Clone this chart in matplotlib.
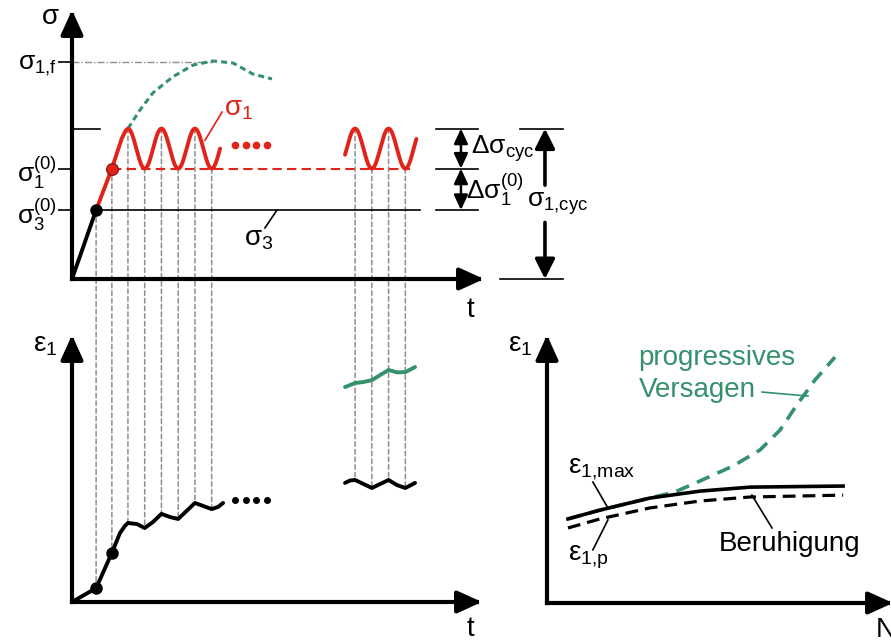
import numpy as np
import matplotlib.pyplot as plt
from matplotlib.patches import ConnectionPatch

plt.rcParams['font.family'] = ['Liberation Sans', 'DejaVu Sans']
plt.rcParams['mathtext.fontset'] = 'custom'
plt.rcParams['mathtext.rm'] = 'Liberation Sans'
plt.rcParams['mathtext.it'] = 'Liberation Sans'
plt.rcParams['mathtext.default'] = 'regular'

RED = '#e2231a'
GREEN = '#35906c'
GREY = '#8e8e8e'
FS = 20

# --- stress levels, top diagram (sigma over t, t in load cycles)
sig3_0 = 1.0
sig1_0 = 1.6
dsig_cyc = 0.58
sig1_f = 3.15

# loading ramp up to the first peak
t_ramp = [0.0, 0.72, 1.19, 1.48, 1.60]
s_ramp = [0.0, 1.0, 1.6, 2.03, 2.15]

# cycle blocks: (start, end, first peak)
blocks = [(1.67, 4.42, 1.67), (8.15, 10.28, 8.45)]

# strength curve up to sigma_1,f
t_str = [1.67, 2.03, 2.42, 3.01, 3.61, 4.21, 4.81, 5.40, 5.97]
s_str = [2.18, 2.45, 2.70, 2.93, 3.10, 3.16, 3.13, 2.97, 2.90]

# --- strain over t, bottom left
t_eps = [0.0, 0.72, 1.19, 1.43, 1.58, 1.67, 1.94, 2.17, 2.42, 2.67, 2.93, 3.17,
         3.67, 4.17, 4.36, 4.51]
e_eps = [0.0, 0.52, 1.84, 2.58, 2.85, 2.96, 2.92, 2.77, 3.00, 3.30, 3.18, 3.11,
         3.71, 3.48, 3.56, 3.71]
t_eps2 = [8.15, 8.30, 8.45, 8.70, 8.95, 9.20, 9.45, 9.70, 9.95, 10.24]
e_eps2 = [4.46, 4.55, 4.57, 4.42, 4.27, 4.42, 4.57, 4.38, 4.27, 4.46]
t_fail = [8.15, 8.45, 8.70, 8.95, 9.20, 9.45, 9.70, 9.95, 10.24]
e_fail = [8.05, 8.20, 8.24, 8.31, 8.50, 8.69, 8.60, 8.61, 8.80]

# --- strain over N, bottom right
N_max = [0.70, 1.77, 3.43, 5.10, 6.77, 9.87]
e_max = [3.15, 3.48, 3.93, 4.19, 4.34, 4.38]
N_p = [0.70, 1.77, 3.43, 5.10, 6.77, 9.87]
e_p = [2.81, 3.15, 3.56, 3.82, 3.97, 4.04]
N_prog = [0.70, 1.77, 3.43, 4.27, 5.10, 6.20, 7.10, 7.77, 8.33, 8.93, 9.60]
e_prog = [3.15, 3.48, 3.93, 4.16, 4.57, 5.13, 5.73, 6.48, 7.42, 8.35, 9.21]

# times linked between stress and strain diagrams
t_links = [0.72, 1.19, 1.67, 2.17, 2.67, 3.17, 3.67, 4.17, 8.45, 8.95, 9.45, 9.95]

W, H = 891, 641
fig = plt.figure(figsize=(W / 100, H / 100), dpi=100)


def axis_arrow(ax, start, end):
    ax.annotate('', xy=end, xytext=start, annotation_clip=False,
                arrowprops=dict(arrowstyle='-|>,head_length=0.75,head_width=0.34',
                                mutation_scale=20, lw=3, color='k',
                                shrinkA=0, shrinkB=0, capstyle='projecting'))


def panel(left, top, right, bottom, xmax, ymax):
    ax = fig.add_axes([left / W, 1 - bottom / H, (right - left) / W, (bottom - top) / H])
    ax.set_xlim(0, xmax)
    ax.set_ylim(0, ymax)
    ax.set_xticks([])
    ax.set_yticks([])
    for s in ax.spines.values():
        s.set_visible(False)
    ax.patch.set_alpha(0)
    axis_arrow(ax, (0, 0), (0, ymax))
    axis_arrow(ax, (0, 0), (xmax, 0))
    return ax


def sig1(t):
    if t < blocks[0][0]:
        return np.interp(t, t_ramp, s_ramp)
    tp = blocks[0][2] if t < blocks[1][0] else blocks[1][2]
    return sig1_0 + dsig_cyc / 2 * (1 + np.cos(2 * np.pi * (t - tp)))


ax1 = panel(72, 10, 484, 279, 412 / 33.5, 269 / 69)
ax2 = panel(72, 335, 482, 602, 410 / 33.5, 267 / 26.7)
ax3 = panel(547, 335, 893, 603, 346 / 30, 268 / 26.7)

# ---------------- top: sigma(t)
peak = sig1_0 + dsig_cyc
ax1.set_yticks([sig3_0, sig1_0, sig1_f],
               labels=[r'$σ_3^{(0)}$', r'$σ_1^{(0)}$', r'$σ_{1{,}f}$'])
ax1.tick_params(axis='y', length=10, width=1.2, direction='out', pad=1,
                labelsize=FS - 1)
ax1.axhline(peak, xmin=0, xmax=0.068, color='k', lw=1.2)

i_f = int(np.argmax(s_str))
ax1.plot([0, t_str[i_f]], [sig1_f, sig1_f], color=GREY, lw=1,
         dashes=(5, 1.5, 1, 1.5))
ax1.plot(t_str, s_str, color=GREEN, lw=2.2, dashes=(2, 1.3))

ax1.plot([t_ramp[1], 10.39], [sig3_0, sig3_0], color='k', lw=1.2)
ax1.plot([t_ramp[2], 10.1], [sig1_0, sig1_0], color=RED, lw=1.5, dashes=(4.5, 2.5))

ax1.plot(t_ramp[:2], s_ramp[:2], color='k', lw=2.8, solid_capstyle='round')
for k, (t0, t1, tp) in enumerate(blocks):
    tt = np.linspace(t0, t1, 200)
    ss = sig1_0 + dsig_cyc / 2 * (1 + np.cos(2 * np.pi * (tt - tp)))
    if k == 0:
        tt = np.concatenate([t_ramp[1:], tt])
        ss = np.concatenate([s_ramp[1:], ss])
    ax1.plot(tt, ss, color=RED, lw=2.8, solid_capstyle='round',
             solid_joinstyle='round')
ax1.plot(t_ramp[1], s_ramp[1], 'o', color='k', ms=8)
ax1.plot(t_ramp[2], s_ramp[2], 'o', color=RED, mec='#7a1010', mew=0.8, ms=8.5)
ax1.plot(np.linspace(4.87, 5.82, 4), [1.94] * 4, 'o', color=RED, ms=4.5)

ax1.text(4.55, 2.47, r'$σ_1$', color=RED, fontsize=FS, ha='left', va='center')
ax1.plot([4.48, 3.97], [2.42, 2.01], color=RED, lw=1.2)
ax1.text(5.12, 0.58, r'$σ_3$', color='k', fontsize=FS, ha='left', va='center')
ax1.plot([5.76, 6.12], [0.74, 1.0], color='k', lw=1.2)

ax1.text(-0.053, 0.975, 'σ', transform=ax1.transAxes, fontsize=FS,
         ha='center', va='center')
ax1.text(0.966, -0.115, 't', transform=ax1.transAxes, fontsize=FS,
         ha='center', va='center')

# dimension marks right of the stress diagram
yt = ax1.get_yaxis_transform()
for lev in (peak, sig1_0, sig3_0):
    ax1.plot([0.883, 0.985], [lev, lev], color='k', lw=1.2, transform=yt,
             clip_on=False)
ax1.plot([1.087, 1.192], [peak, peak], color='k', lw=1.2, transform=yt, clip_on=False)
ax1.plot([1.039, 1.192], [0, 0], color='k', lw=1.2, transform=yt, clip_on=False)
for lo, hi in ((sig1_0, peak), (sig3_0, sig1_0)):
    ax1.annotate('', xy=(0.944, hi), xytext=(0.944, lo), xycoords=yt,
                 textcoords=yt, annotation_clip=False,
                 arrowprops=dict(arrowstyle='<|-|>,head_length=0.6,head_width=0.28',
                                 mutation_scale=15, lw=1.8, color='k',
                                 shrinkA=0, shrinkB=0))
mid = peak / 2
for a, b in ((mid + 0.27, peak), (mid - 0.27, 0)):
    ax1.annotate('', xy=(1.148, b), xytext=(1.148, a), xycoords=yt,
                 textcoords=yt, annotation_clip=False,
                 arrowprops=dict(arrowstyle='-|>,head_length=0.6,head_width=0.3',
                                 mutation_scale=20, lw=2.6, color='k',
                                 shrinkA=0, shrinkB=0))
ax1.text(0.968, sig1_0 + dsig_cyc / 2, r'$Δσ_{cyc}$', transform=yt,
         fontsize=FS - 1, ha='left', va='center')
ax1.text(0.956, (sig1_0 + sig3_0) / 2, r'$Δσ_1^{(0)}$', transform=yt,
         fontsize=FS - 1, ha='left', va='center')
ax1.text(1.104, mid, r'$σ_{1{,}cyc}$', transform=yt,
         fontsize=FS - 1, ha='left', va='center')

# ---------------- bottom left: eps_1(t)
ax2.plot(t_eps, e_eps, color='k', lw=2.8, solid_joinstyle='round',
         solid_capstyle='round')
ax2.plot(t_eps2, e_eps2, color='k', lw=2.8, solid_joinstyle='round',
         solid_capstyle='round')
ax2.plot(t_fail, e_fail, color=GREEN, lw=2.8, solid_joinstyle='round',
         solid_capstyle='round')
ax2.plot(t_eps[1:3], e_eps[1:3], 'o', color='k', ms=8)
ax2.plot(np.linspace(4.87, 5.82, 4), [3.82] * 4, 'o', color='k', ms=4)
ax2.text(-0.095, 0.963, r'$ε_1$', transform=ax2.transAxes, fontsize=FS,
         ha='left', va='center')
ax2.text(0.971, -0.1, 't', transform=ax2.transAxes, fontsize=FS,
         ha='center', va='center')

# links between sigma(t) and eps_1(t)
for t in t_links:
    if t < blocks[1][0]:
        e = np.interp(t, t_eps, e_eps)
    else:
        e = np.interp(t, t_eps2, e_eps2)
    con = ConnectionPatch(xyA=(t, sig1(t)), coordsA=ax1.transData,
                          xyB=(t, e), coordsB=ax2.transData,
                          color=GREY, lw=1.1, linestyle=(0, (3, 2)), zorder=-1)
    fig.add_artist(con)

# ---------------- bottom right: eps_1(N)
ax3.plot(N_prog, e_prog, color=GREEN, lw=2.6, dashes=(3.8, 2.4))
ax3.plot(N_max, e_max, color='k', lw=2.6, solid_joinstyle='round')
ax3.plot(N_p, e_p, color='k', lw=2.3, dashes=(4, 2.2))

ax3.text(0.70, 4.87, r'$ε_{1{,}max}$', fontsize=FS, ha='left', va='baseline')
ax3.plot([1.53, 2.03], [4.53, 3.56], color='k', lw=1.2)
ax3.text(0.70, 1.61, r'$ε_{1{,}p}$', fontsize=FS, ha='left', va='baseline')
ax3.plot([1.53, 2.03], [1.99, 3.11], color='k', lw=1.2)
ax3.text(5.73, 1.95, 'Beruhigung', fontsize=FS, ha='left', va='baseline')
ax3.plot([6.83, 7.5], [4.04, 2.81], color='k', lw=1.2)
ax3.text(3.03, 8.91, 'progressives', color=GREEN, fontsize=FS, ha='left',
         va='baseline')
ax3.text(3.07, 7.72, 'Versagen', color=GREEN, fontsize=FS, ha='left',
         va='baseline')
ax3.plot([7.17, 8.7], [7.90, 7.75], color=GREEN, lw=1.2)

ax3.text(-0.113, 0.963, r'$ε_1$', transform=ax3.transAxes, fontsize=FS,
         ha='left', va='center')
ax3.text(0.95, -0.1, 'N', transform=ax3.transAxes, fontsize=FS,
         ha='left', va='center')

fig.savefig('out.png', dpi=100)
